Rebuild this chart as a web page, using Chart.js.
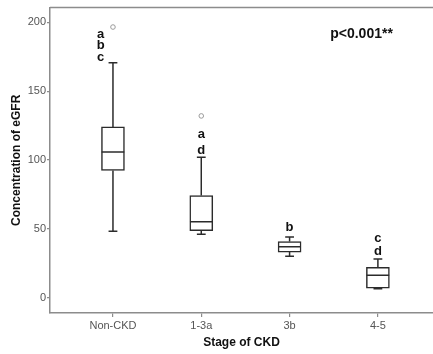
<!DOCTYPE html>
<html>
<head>
<meta charset="utf-8">
<script src="https://cdn.jsdelivr.net/npm/chart.js@4"></script>
<style>
  html, body { margin: 0; padding: 0; background: #fff; }
  #wrap { width: 433px; height: 354px; position: relative; }
</style>
</head>
<body>
<div id="wrap"><canvas id="chart"></canvas></div>
<script>
// ---------- Data ----------
const stages = ['Non-CKD', '1-3a', '3b', '4-5'];
const whiskerLow = [48.3, 46.2, 30.1, 6.6];
const q1 = [92.4, 48.8, 33.2, 7.0];
const median = [105.9, 55.3, 37.0, 16.4];
const q3 = [124.0, 74.2, 40.9, 22.2];
const whiskerHigh = [170.6, 102.0, 44.2, 28.2];
const outlierStage = [0, 1];
const outlierValue = [196.5, 132.0];

// significance letters above each box
const letterText = ['a', 'b', 'c', 'a', 'd', 'b', 'c', 'd'];
const letterX = [-0.14, -0.14, -0.14, 1, 1, 2, 3, 3];
const letterY = [191.5, 183, 174.5, 118.5, 107, 51.4, 43, 33.5];

const yTicks = [0, 50, 100, 150, 200];
const pText = 'p<0.001**';

const boxColor = '#2b2b2b';
const axisColor = '#8c8c8c';

// ---------- Datasets ----------
const boxData = stages.map((_, i) => ({ x: i, y: [q1[i], q3[i]] }));
const whiskerData = [];
stages.forEach((_, i) => {
  whiskerData.push({ x: i, y: whiskerLow[i] }, { x: i, y: q1[i] }, { x: i, y: null });
  whiskerData.push({ x: i, y: q3[i] }, { x: i, y: whiskerHigh[i] }, { x: i, y: null });
});
const capData = [];
stages.forEach((_, i) => {
  capData.push({ x: i, y: whiskerLow[i] }, { x: i, y: whiskerHigh[i] });
});
const medianData = stages.map((_, i) => ({ x: i, y: median[i] }));
const outlierData = outlierStage.map((s, k) => ({ x: s, y: outlierValue[k] }));

// letters + p value, placed through the scales
const annotations = {
  id: 'annotations',
  afterDatasetsDraw(chart) {
    const { ctx, scales: { x, y } } = chart;
    ctx.save();
    ctx.fillStyle = '#111';
    ctx.font = 'bold 13px "Liberation Sans", Arial, sans-serif';
    ctx.textAlign = 'center';
    ctx.textBaseline = 'middle';
    letterText.forEach((t, i) => {
      ctx.fillText(t, x.getPixelForValue(letterX[i]), y.getPixelForValue(letterY[i]));
    });
    ctx.textAlign = 'left';
    ctx.font = 'bold 14px "Liberation Sans", Arial, sans-serif';
    ctx.fillText(pText, x.getPixelForValue(2.46), y.getPixelForValue(191));
    ctx.restore();
  }
};

// frame line along the top of the plot
const frameTop = {
  id: 'frameTop',
  beforeDatasetsDraw(chart) {
    const { ctx, chartArea: a } = chart;
    ctx.save();
    ctx.strokeStyle = axisColor;
    ctx.lineWidth = 1.5;
    ctx.beginPath();
    ctx.moveTo(a.left, a.top);
    ctx.lineTo(a.right, a.top);
    ctx.stroke();
    ctx.restore();
  }
};

const font = '"Liberation Sans", Arial, sans-serif';

new Chart(document.getElementById('chart'), {
  type: 'bar',
  data: {
    datasets: [
      {
        type: 'line', data: whiskerData, borderColor: boxColor, borderWidth: 1.5,
        pointRadius: 0, spanGaps: false, order: 2
      },
      {
        type: 'bar', data: boxData, backgroundColor: '#ffffff', borderColor: boxColor,
        borderWidth: 1.5, borderSkipped: false, barThickness: 23, order: 1
      },
      {
        type: 'scatter', data: capData, pointStyle: 'line', pointRadius: 4.4,
        borderColor: boxColor, borderWidth: 1.5, order: 0
      },
      {
        type: 'scatter', data: medianData, pointStyle: 'line', pointRadius: 11.3,
        borderColor: boxColor, borderWidth: 1.5, order: 0
      },
      {
        type: 'scatter', data: outlierData, pointStyle: 'circle', pointRadius: 2.3,
        backgroundColor: '#ffffff', borderColor: '#9a9a9a', borderWidth: 1, order: 0
      }
    ]
  },
  options: {
    responsive: true,
    maintainAspectRatio: false,
    animation: false,
    layout: { autoPadding: false, padding: { top: 4, right: 0, left: 0, bottom: 0 } },
    plugins: { legend: { display: false }, tooltip: { enabled: false } },
    scales: {
      x: {
        type: 'linear',
        offset: false,
        min: -0.713,
        max: 3.624,
        afterBuildTicks: s => { s.ticks = stages.map((_, i) => ({ value: i })); },
        afterFit: s => { s.height = 41; },
        ticks: {
          callback: v => stages[v],
          color: '#555',
          font: { size: 11, family: font },
          padding: 2,
          maxRotation: 0,
          autoSkip: false
        },
        grid: { offset: false, drawOnChartArea: false, tickLength: 4, color: axisColor, lineWidth: 1.2 },
        border: { color: axisColor, width: 1.5 },
        title: {
          display: true, text: 'Stage of CKD', color: '#111',
          font: { size: 12, weight: 'bold', family: font },
          padding: { top: 3 }
        }
      },
      y: {
        min: -11,
        max: 210.6,
        afterBuildTicks: s => { s.ticks = yTicks.map(v => ({ value: v })); },
        afterFit: s => { s.width = 50; },
        ticks: {
          color: '#555',
          font: { size: 11, family: font },
          padding: 1
        },
        grid: { drawOnChartArea: false, tickLength: 3, color: axisColor, lineWidth: 1.2 },
        border: { color: axisColor, width: 1.5 },
        title: {
          display: true, text: 'Concentration of eGFR', color: '#111',
          font: { size: 12, weight: 'bold', family: font },
          padding: { top: 9, bottom: 0 }
        }
      }
    }
  },
  plugins: [frameTop, annotations]
});
</script>
</body>
</html>
